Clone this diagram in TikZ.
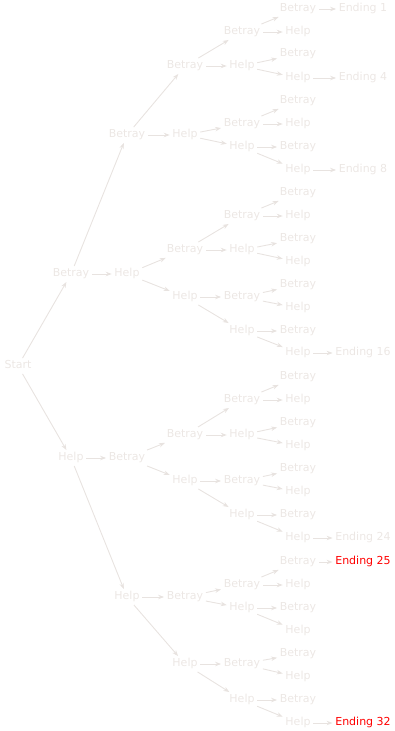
\documentclass[tikz,border=0pt]{standalone}
\usepackage{fontspec}
\setmainfont{DejaVu Sans}
\usetikzlibrary{arrows.meta}
\definecolor{lightc}{RGB}{236,231,228}
\definecolor{linec}{RGB}{232,227,224}
\tikzset{
  lbl/.style={text=lightc, font=\fontsize{11}{13}\selectfont, inner sep=2.5pt, text height=8pt, text depth=2.5pt},
  endred/.style={text=red},
  arr/.style={draw=linec, line width=0.9pt, -{Stealth[length=6pt,width=4.5pt]}}
}
\begin{document}
\begin{tikzpicture}[x=1pt,y=-1pt]
\useasboundingbox (0,0) rectangle (394,731);
% nodes
\foreach \n/\x/\y/\t in {
  s/18/366/Start,
  b/71/274/Betray, h/71/458/Help,
  bb/127/135/Betray, bh/127/274/Help, hb/127/458/Betray, hh/127/597/Help,
  bbb/185/66/Betray, bbh/185/135/Help, bhb/185/250/Betray, bhh/185/297/Help,
  hbb/185/435/Betray, hbh/185/481/Help, hhb/185/597/Betray, hhh/185/664/Help,
  bbbb/242/32/Betray, bbbh/242/66/Help, bbhb/242/124/Betray, bbhh/242/147/Help,
  bhbb/242/216/Betray, bhbh/242/250/Help, bhhb/242/297/Betray, bhhh/242/331/Help,
  hbbb/242/400/Betray, hbbh/242/435/Help, hbhb/242/481/Betray, hbhh/242/515/Help,
  hhbb/242/585/Betray, hhbh/242/608/Help, hhhb/242/664/Betray, hhhh/242/700/Help,
  bbbbb/298/9/Betray, bbbbh/298/32/Help, bbbhb/298/54/Betray, bbbhh/298/78/Help,
  bbhbb/298/101/Betray, bbhbh/298/124/Help, bbhhb/298/147/Betray, bbhhh/298/170/Help,
  bhbbb/298/193/Betray, bhbbh/298/216/Help, bhbhb/298/239/Betray, bhbhh/298/262/Help,
  bhhbb/298/285/Betray, bhhbh/298/308/Help, bhhhb/298/331/Betray, bhhhh/298/353/Help,
  hbbbb/298/377/Betray, hbbbh/298/400/Help, hbbhb/298/423/Betray, hbbhh/298/446/Help,
  hbhbb/298/469/Betray, hbhbh/298/492/Help, hbhhb/298/515/Betray, hbhhh/298/538/Help,
  hhbbb/298/562/Betray, hhbbh/298/585/Help, hhbhb/298/608/Betray, hhbhh/298/631/Help,
  hhhbb/298/654/Betray, hhhbh/298/677/Help, hhhhb/298/700/Betray, hhhhh/298/723/Help,
  e1/363/9/Ending 1, e4/363/78/Ending 4, e8/363/170/Ending 8,
  e16/363/353/Ending 16, e24/363/538/Ending 24}
  \node[lbl] (\n) at (\x,\y) {\t};
\node[lbl, endred] (e25) at (363,562) {Ending 25};
\node[lbl, endred] (e32) at (363,723) {Ending 32};
% edges
\foreach \p/\c in {
  s/b, s/h,
  b/bb, b/bh, h/hb, h/hh,
  bb/bbb, bb/bbh, bh/bhb, bh/bhh, hb/hbb, hb/hbh, hh/hhb, hh/hhh,
  bbb/bbbb, bbb/bbbh, bbh/bbhb, bbh/bbhh, bhb/bhbb, bhb/bhbh, bhh/bhhb, bhh/bhhh,
  hbb/hbbb, hbb/hbbh, hbh/hbhb, hbh/hbhh, hhb/hhbb, hhb/hhbh, hhh/hhhb, hhh/hhhh,
  bbbb/bbbbb, bbbb/bbbbh, bbbh/bbbhb, bbbh/bbbhh, bbhb/bbhbb, bbhb/bbhbh, bbhh/bbhhb, bbhh/bbhhh,
  bhbb/bhbbb, bhbb/bhbbh, bhbh/bhbhb, bhbh/bhbhh, bhhb/bhhbb, bhhb/bhhbh, bhhh/bhhhb, bhhh/bhhhh,
  hbbb/hbbbb, hbbb/hbbbh, hbbh/hbbhb, hbbh/hbbhh, hbhb/hbhbb, hbhb/hbhbh, hbhh/hbhhb, hbhh/hbhhh,
  hhbb/hhbbb, hhbb/hhbbh, hhbh/hhbhb, hhbh/hhbhh, hhhb/hhhbb, hhhb/hhhbh, hhhh/hhhhb, hhhh/hhhhh,
  bbbbb/e1, bbbhh/e4, bbhhh/e8, bhhhh/e16, hbhhh/e24, hhbbb/e25, hhhhh/e32}
  \draw[arr] (\p) -- (\c);
\end{tikzpicture}
\end{document}
